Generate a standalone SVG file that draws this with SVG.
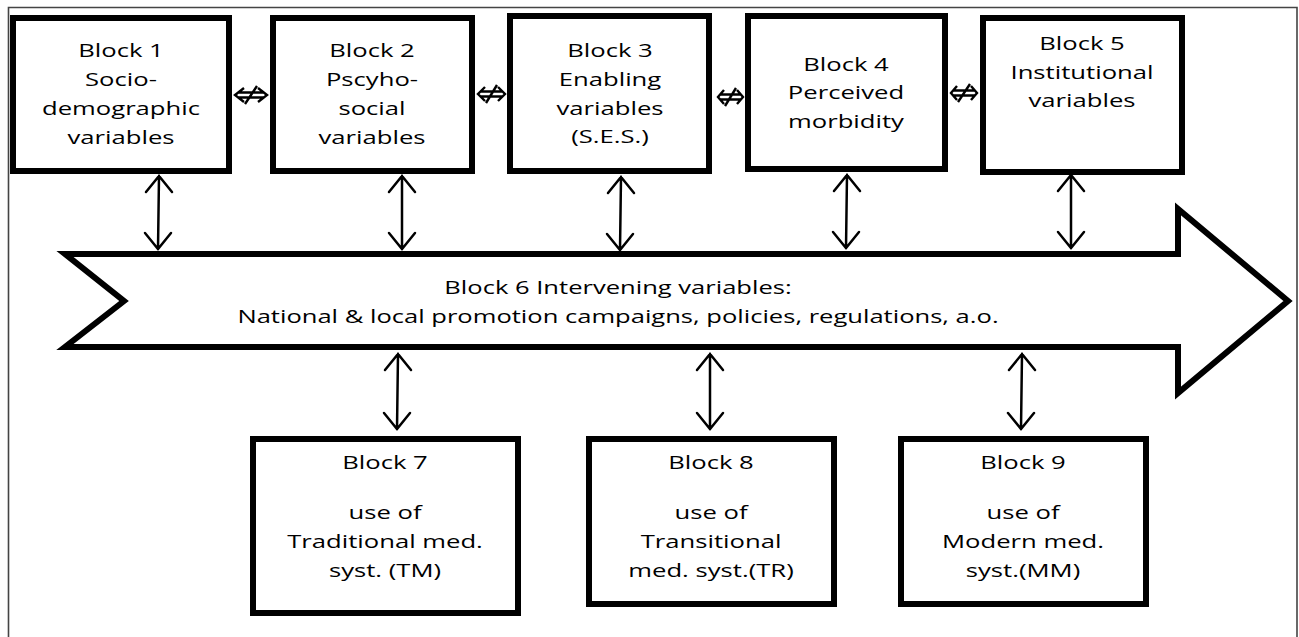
<svg xmlns="http://www.w3.org/2000/svg" width="1299" height="637" viewBox="0 0 1299 637">
<style>
.box{fill:#fff;stroke:#000;stroke-width:6}
.lnk{stroke:#000;stroke-width:2.5;fill:none;stroke-linecap:round;stroke-linejoin:miter}
.sym{stroke:#000;stroke-width:2.4;fill:none}
.t{font-family:"Open Sans","Liberation Sans",sans-serif;font-size:19px;text-anchor:middle;fill:#000}
.t6{font-family:"Open Sans","Liberation Sans",sans-serif;font-size:18px;text-anchor:middle;fill:#000}
</style>
<rect x="0" y="0" width="1299" height="637" fill="#fff"/>
<path d="M8.5,637 V7.5 H1297 V637" fill="none" stroke="#444" stroke-width="1.6"/>

<g id="block6">
<polygon class="box" points="65,254 1178,254 1178,209 1288,301 1178,393 1178,347 65,347 124,301"/>
<text class="t6" transform="translate(618,0) scale(1.42,1)"><tspan x="0" y="294">Block 6 Intervening variables:</tspan><tspan x="0" y="323">National &amp; local promotion campaigns, policies, regulations, a.o.</tspan></text>
</g>

<g id="block1">
<rect class="box" x="13" y="18" width="216" height="153"/>
<text class="t" transform="translate(121,0) scale(1.35,1)"><tspan x="0" y="57">Block 1</tspan><tspan x="0" y="86">Socio-</tspan><tspan x="0" y="115">demographic</tspan><tspan x="0" y="144">variables</tspan></text>
</g>
<g id="block2">
<rect class="box" x="273" y="18" width="199" height="153"/>
<text class="t" transform="translate(372,0) scale(1.35,1)"><tspan x="0" y="57">Block 2</tspan><tspan x="0" y="86">Pscyho-</tspan><tspan x="0" y="115">social</tspan><tspan x="0" y="144">variables</tspan></text>
</g>
<g id="block3">
<rect class="box" x="510" y="16" width="199" height="155"/>
<text class="t" transform="translate(610,0) scale(1.35,1)"><tspan x="0" y="57">Block 3</tspan><tspan x="0" y="86">Enabling</tspan><tspan x="0" y="115">variables</tspan><tspan x="0" y="143">(S.E.S.)</tspan></text>
</g>
<g id="block4">
<rect class="box" x="748" y="16" width="197" height="153"/>
<text class="t" transform="translate(846,0) scale(1.35,1)"><tspan x="0" y="71">Block 4</tspan><tspan x="0" y="99">Perceived</tspan><tspan x="0" y="128">morbidity</tspan></text>
</g>
<g id="block5">
<rect class="box" x="983" y="18" width="199" height="154"/>
<text class="t" transform="translate(1082,0) scale(1.35,1)"><tspan x="0" y="50">Block 5</tspan><tspan x="0" y="79">Institutional</tspan><tspan x="0" y="107">variables</tspan></text>
</g>
<g id="block7">
<rect class="box" x="253" y="439" width="265" height="174"/>
<text class="t" transform="translate(385,0) scale(1.35,1)"><tspan x="0" y="469">Block 7</tspan><tspan x="0" y="519">use of</tspan><tspan x="0" y="548">Traditional med.</tspan><tspan x="0" y="577">syst. (TM)</tspan></text>
</g>
<g id="block8">
<rect class="box" x="589" y="439" width="245" height="165"/>
<text class="t" transform="translate(711,0) scale(1.35,1)"><tspan x="0" y="469">Block 8</tspan><tspan x="0" y="519">use of</tspan><tspan x="0" y="548">Transitional</tspan><tspan x="0" y="577">med. syst.(TR)</tspan></text>
</g>
<g id="block9">
<rect class="box" x="901" y="439" width="245" height="165"/>
<text class="t" transform="translate(1023,0) scale(1.35,1)"><tspan x="0" y="469">Block 9</tspan><tspan x="0" y="519">use of</tspan><tspan x="0" y="548">Modern med.</tspan><tspan x="0" y="577">syst.(MM)</tspan></text>
</g>

<g id="connectors">
<path class="lnk" d="M159,176 L158,249 M146,192 L159,176 L172,192 M145,233 L158,249 L171,233"/>
<path class="lnk" d="M402,176 L402,249 M389,192 L402,176 L415,192 M389,233 L402,249 L415,233"/>
<path class="lnk" d="M621,177 L620,250 M608,193 L621,177 L634,193 M607,234 L620,250 L633,234"/>
<path class="lnk" d="M847,175 L846,248 M834,191 L847,175 L860,191 M833,232 L846,248 L859,232"/>
<path class="lnk" d="M1071,175 L1071,248 M1058,191 L1071,175 L1084,191 M1058,232 L1071,248 L1084,232"/>
<path class="lnk" d="M398,354 L397,429 M385,370 L398,354 L411,370 M384,413 L397,429 L410,413"/>
<path class="lnk" d="M710,354 L710,429 M697,370 L710,354 L723,370 M697,413 L710,429 L723,413"/>
<path class="lnk" d="M1022,354 L1021,429 M1009,370 L1022,354 L1035,370 M1008,413 L1021,429 L1034,413"/>
<path class="sym" d="M244,88 L235,95 L244,102 M258,88 L267,95 L258,102 M238,92.5 H264 M238,97.5 H264 M245,104 L257,86"/>
<path class="sym" d="M485,87 L478,94 L485,101 M498,87 L505,94 L498,101 M480,91.5 H503 M480,96.5 H503 M486,103 L497,85"/>
<path class="sym" d="M724,90 L718,97 L724,104 M737,90 L743,97 L737,104 M720,94.5 H741 M720,99.5 H741 M725,106 L736,88"/>
<path class="sym" d="M957,86 L951,93 L957,100 M971,86 L977,93 L971,100 M953,90.5 H975 M953,95.5 H975 M958,102 L970,84"/>
</g>
</svg>
